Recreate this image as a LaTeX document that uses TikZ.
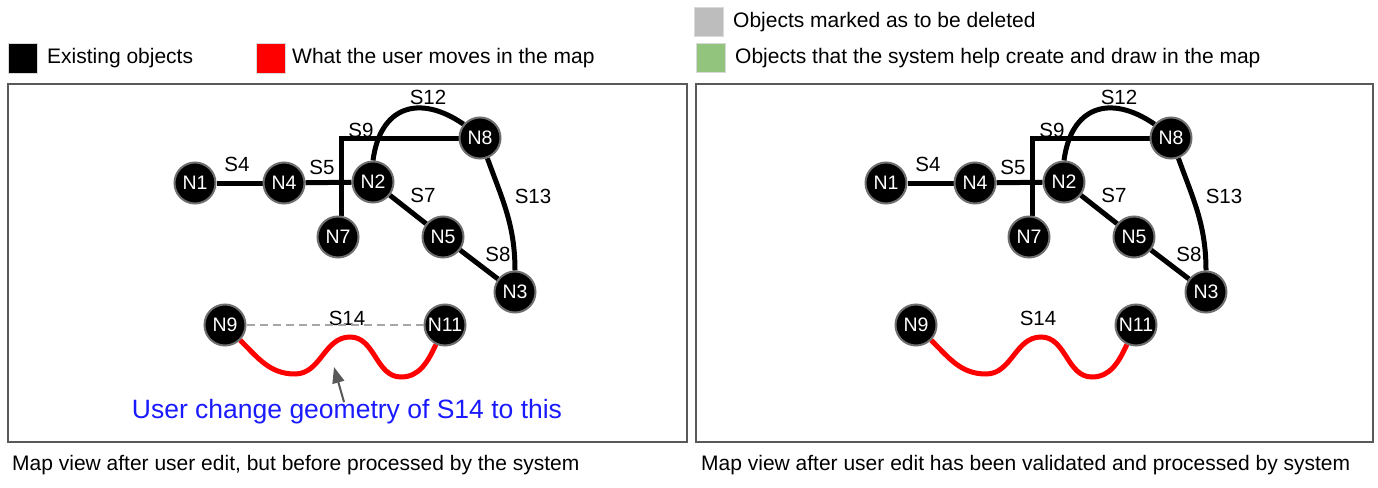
\documentclass[tikz,border=0pt]{standalone}
\usepackage{fontspec}
\setmainfont{Liberation Sans}
\usetikzlibrary{arrows.meta}
\definecolor{frame}{HTML}{595959}
\definecolor{ndborder}{HTML}{6E6E6E}
\definecolor{delgray}{HTML}{BDBDBD}
\definecolor{sysgreen}{HTML}{93C47D}
\definecolor{ublue}{HTML}{1A1AFF}
\tikzset{
  nd/.style={circle,fill=black,draw=ndborder,line width=2pt,minimum size=41pt,inner sep=0pt,text=white,font=\fontsize{19.5}{21}\selectfont},
  seg/.style={line width=5pt,black},
  slab/.style={font=\fontsize{20.5}{22}\selectfont,inner sep=1pt},
  moved/.style={line width=5pt,red},
  legsq/.style={minimum width=29pt,minimum height=29pt,inner sep=0pt,draw=black!15,line width=1pt},
  legtxt/.style={anchor=west,font=\fontsize{21}{23}\selectfont,inner sep=0pt},
  panel/.style={draw=frame,line width=2pt},
  captxt/.style={anchor=west,font=\fontsize{21}{23}\selectfont,inner sep=0pt}
}
\pgfdeclarelayer{background}
\pgfsetlayers{background,main}
\newcommand{\mapnet}[1]{%
  \node[nd] (#1N1) at (195,183) {N1};
  \node[nd] (#1N4) at (284,183) {N4};
  \node[nd] (#1N2) at (373,182) {N2};
  \node[nd] (#1N7) at (338,237) {N7};
  \node[nd] (#1N5) at (443,237) {N5};
  \node[nd] (#1N8) at (480,138) {N8};
  \node[nd] (#1N3) at (515,292) {N3};
  \node[nd] (#1N9) at (225,325) {N9};
  \node[nd] (#1N11) at (445,325) {N11};
  \begin{pgfonlayer}{background}
  \draw[seg] (#1N1) -- (#1N4);
  \draw[seg] (#1N4) -- (#1N2);
  \draw[seg] (#1N7.north -| 341,0) |- (#1N8);
  \draw[seg] (#1N2) -- (#1N5);
  \draw[seg] (#1N5) -- (#1N3);
  \draw[seg] (#1N2.north) .. controls (380,106.5) and (419,93.5) .. (#1N8.140);
  \draw[seg] (#1N8) to[out=-70,in=90] (#1N3);
  \draw[moved] (#1N9) to[out=-45,in=180] (295,374) to[out=0,in=180] (350,337) to[out=0,in=180] (401,377) to[out=0,in=-115] (#1N11);
  \end{pgfonlayer}
  \node[slab] (#1S4) at (237,164) {S4};
  \node[slab] (#1S5) at (322,167) {S5};
  \node[slab] (#1S9) at (361,130) {S9};
  \node[slab] (#1S12) at (428,97) {S12};
  \node[slab] (#1S7) at (423,195) {S7};
  \node[slab] (#1S13) at (533,196) {S13};
  \node[slab] (#1S8) at (498,254) {S8};
  \node[slab] (#1S14) at (347,318) {S14};
}
\begin{document}
\begin{tikzpicture}[x=1pt,y=-1pt]
\useasboundingbox (0,0) rectangle (1378,487);
% legend
\node[legsq,fill=black] (lgblack) at (22.5,58.5) {};
\node[legtxt] (tblack) at (47,58) {Existing objects};
\node[legsq,fill=red] (lgred) at (270.5,58.5) {};
\node[legtxt] (tred) at (292,58) {What the user moves in the map};
\node[legsq,fill=delgray] (lggray) at (709,22.5) {};
\node[legtxt] (tgray) at (733,22) {Objects marked as to be deleted};
\node[legsq,fill=sysgreen] (lggreen) at (710.5,58) {};
\node[legtxt] (tgreen) at (735,58) {Objects that the system help create and draw in the map};
% panels
\node[panel,minimum width=679pt,minimum height=358pt,inner sep=0pt] (pleft) at (347.5,263) {};
\node[panel,minimum width=677pt,minimum height=358pt,inner sep=0pt] (pright) at (1034.5,263) {};
\node[captxt] (capl) at (12,465) {Map view after user edit, but before processed by the system};
\node[captxt] (capr) at (701,465) {Map view after user edit has been validated and processed by system};
% left map
\begin{scope}
\mapnet{L}
\draw[gray!70,line width=1.5pt,dash pattern=on 8pt off 5pt] (LN9) -- (LN11);
\end{scope}
\node[font=\fontsize{26.5}{28}\selectfont,text=ublue,inner sep=0pt] (blue) at (347,412) {User change geometry of S14 to this};
\coordinate (tipp) at (334,367);
\draw[frame,line width=2pt,-{Triangle[length=16pt,width=12pt]}] (344,402) -- (tipp);
% right map
\begin{scope}[xshift=691pt]
\mapnet{R}
\end{scope}
\end{tikzpicture}
\end{document}
